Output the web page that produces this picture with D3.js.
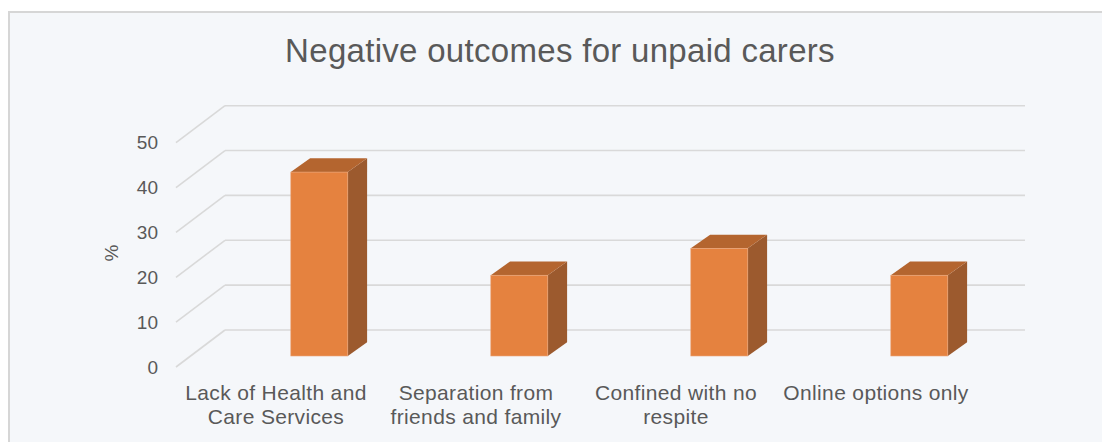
<!DOCTYPE html>
<html>
<head>
<meta charset="utf-8">
<script src="https://cdn.jsdelivr.net/npm/d3@7"></script>
<style>
  html, body { margin: 0; padding: 0; background: #ffffff; }
  svg { display: block; font-family: "Liberation Sans", Arial, sans-serif; }
</style>
</head>
<body>
<svg id="chart" width="1102" height="442"></svg>
<script>
// Survey results: share of unpaid carers reporting each negative outcome (%)
const categories = [
  "Lack of Health and Care Services",
  "Separation from friends and family",
  "Confined with no respite",
  "Online options only"
];
const values = [41, 18, 24, 18];
const yTicks = [0, 10, 20, 30, 40, 50];
const chartTitle = "Negative outcomes for unpaid carers";
const yAxisTitle = "%";

const svg = d3.select("#chart");
const W = 1102, H = 442;

// Chart area panel
svg.append("rect").attr("x", 0).attr("y", 0).attr("width", W).attr("height", H).attr("fill", "#ffffff");
svg.append("rect").attr("x", 9).attr("y", 12).attr("width", W + 10).attr("height", H + 10)
  .attr("fill", "#f5f7fa").attr("stroke", "#d6d6d6").attr("stroke-width", 2);

// Floor front edge and oblique depth vector of the 3-D plot box
const x = d3.scaleBand().domain(categories).range([176, 976]);
const y = d3.scaleLinear().domain([0, 50]).range([367, 142.7]);
const depth = { dx: 49, dy: -37 };

// Gridlines: diagonal on the side wall, horizontal on the back wall
const grid = svg.append("g").attr("stroke", "#d9d9d9").attr("stroke-width", 1.6).attr("fill", "none");
yTicks.forEach(v => {
  const x0 = x.range()[0], y0 = y(v);
  grid.append("line").attr("x1", x0).attr("y1", y0).attr("x2", x0 + depth.dx).attr("y2", y0 + depth.dy);
  grid.append("line").attr("x1", x0 + depth.dx).attr("y1", y0 + depth.dy)
    .attr("x2", x.range()[1] + depth.dx).attr("y2", y0 + depth.dy);
});

// Value axis labels
const yAxis = svg.append("g").attr("transform", `translate(${x.range()[0]},0)`)
  .call(d3.axisLeft(y).tickValues(yTicks).tickSize(0).tickPadding(18));
yAxis.select(".domain").remove();
yAxis.selectAll("text").attr("fill", "#595959").style("font-size", "19px")
  .style("font-family", '"Liberation Sans", Arial, sans-serif');

// 3-D columns: front face, top and right side
const bw = x.bandwidth();
const barOffset = 0.574 * bw, barWidth = 0.285 * bw;
const barDepth = { dx: 19.3, dy: -13.7 };
const baseY = y(0) - 11;
const unit = y(0) - y(1);

const bars = svg.append("g").selectAll("g").data(values).join("g");
bars.each(function (v, i) {
  const g = d3.select(this);
  const x0 = x(categories[i]) + barOffset, x1 = x0 + barWidth;
  const yt = baseY - v * unit, yb = baseY;
  const { dx, dy } = barDepth;
  g.append("path")
    .attr("d", `M${x1},${yb}L${x1 + dx},${yb + dy}L${x1 + dx},${yt + dy}L${x1},${yt}Z`)
    .attr("fill", "#9c5a2e");
  g.append("path")
    .attr("d", `M${x0},${yt}L${x1},${yt}L${x1 + dx},${yt + dy}L${x0 + dx},${yt + dy}Z`)
    .attr("fill", "#b4652f");
  g.append("rect").attr("x", x0).attr("y", yt).attr("width", barWidth).attr("height", yb - yt)
    .attr("fill", "#e5823f").attr("stroke", "#e9a57a").attr("stroke-width", 0.6);
});

// Category labels, wrapped to the band width
const catLabels = svg.append("g").attr("fill", "#595959").style("font-size", "21px")
  .style("letter-spacing", "0.35px").attr("text-anchor", "middle");
categories.forEach(c => {
  const t = catLabels.append("text").attr("x", x(c) + bw / 2).attr("y", 400);
  const words = c.split(" ");
  let line = [];
  let tspan = t.append("tspan").attr("x", x(c) + bw / 2).attr("dy", 0);
  words.forEach(wd => {
    line.push(wd);
    tspan.text(line.join(" "));
    if (tspan.node().getComputedTextLength() > 196 && line.length > 1) {
      line.pop();
      tspan.text(line.join(" "));
      line = [wd];
      tspan = t.append("tspan").attr("x", x(c) + bw / 2).attr("dy", 24).text(wd);
    }
  });
});

// Axis title
svg.append("text").attr("transform", "translate(118,253) rotate(-90)")
  .attr("text-anchor", "middle").attr("fill", "#595959").style("font-size", "19px")
  .text(yAxisTitle);

// Chart title
svg.append("text").attr("x", 560).attr("y", 62).attr("text-anchor", "middle")
  .attr("fill", "#595959").style("font-size", "33px").style("letter-spacing", "0.3px")
  .text(chartTitle);
</script>
</body>
</html>
